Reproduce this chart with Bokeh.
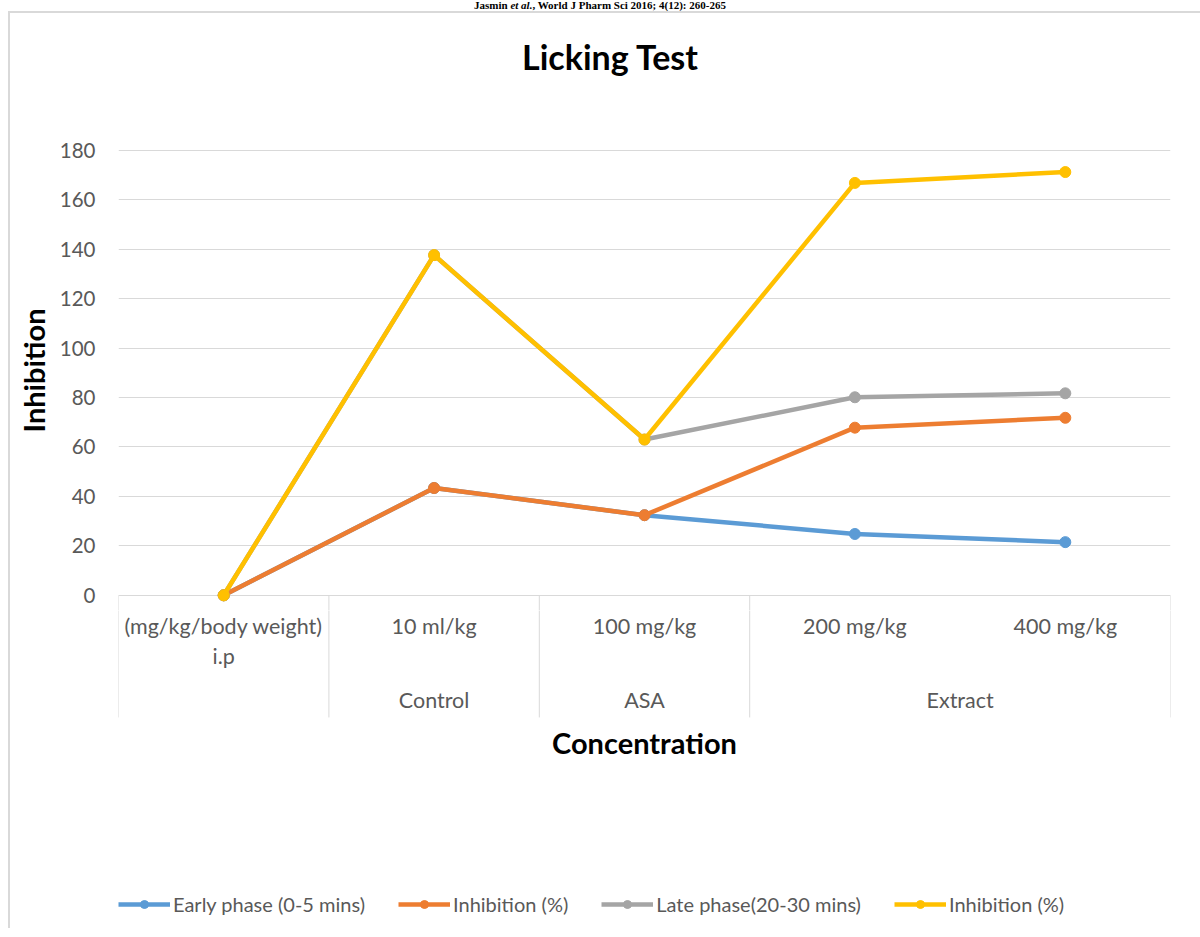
from bokeh.plotting import figure
from bokeh.models import (FixedTicker, Legend, LegendItem, ColumnDataSource, Range1d, Div)
from bokeh.layouts import column
from bokeh.core.properties import value
from bokeh.embed import file_html
from bokeh.resources import INLINE

# ---------------- data ----------------
doses = ["(mg/kg/body weight)\ni.p", "10 ml/kg", "100 mg/kg", "200 mg/kg", "400 mg/kg"]
groups = ["", "Control", "ASA", "Extract", "Extract"]
y_ticks = [0, 20, 40, 60, 80, 100, 120, 140, 160, 180]

series_names = ["Early phase (0-5 mins)", "Inhibition (%)", "Late phase(20-30 mins)", "Inhibition (%)"]
early_phase = [0, 43.4, 32.4, 24.8, 21.5]
inhibition_early = [0, 43.4, 32.4, 67.8, 71.8]
late_phase = [0, 137.6, 63.0, 80.1, 81.7]
inhibition_late = [0, 137.6, 63.0, 166.8, 171.2]
series_values = [early_phase, inhibition_early, late_phase, inhibition_late]
colors = ["#5B9BD5", "#ED7D31", "#A5A5A5", "#FFC000"]

FONT = "Lato"
TICK_COLOR = "#595959"
GRID_COLOR = "#d9d9d9"
LINE_W = 4.5
MARK_SIZE = 11

n = len(doses)
xs = [i + 0.5 for i in range(n)]

FW = 1052                       # frame width
K = 480 / (188 + 6.15)          # px per y unit, shared by both panels
Y_SPLIT = -6.15
LEFT = 108
RIGHT = 30
TITLE_H = 88

# ---------------- chart title ----------------
title_div = Div(text="Licking Test", width=LEFT + FW + RIGHT, height=TITLE_H, margin=0,
                styles={"font-family": FONT, "font-size": "34px", "font-weight": "bold",
                        "line-height": f"{TITLE_H}px", "text-align": "center",
                        "text-indent": "10px", "color": "black"})

# ---------------- top panel: data ----------------
p = figure(output_backend="svg", toolbar_location=None,
           frame_width=FW, frame_height=480,
           min_border_left=LEFT, min_border_right=RIGHT,
           min_border_top=117 - TITLE_H, min_border_bottom=0,
           x_range=Range1d(0, n), y_range=Range1d(Y_SPLIT, 188))
p.outline_line_color = None
p.xaxis.visible = False
p.xgrid.visible = False
p.ygrid.ticker = FixedTicker(ticks=y_ticks)
p.ygrid.grid_line_color = GRID_COLOR
p.yaxis.ticker = FixedTicker(ticks=y_ticks)
p.yaxis.axis_line_color = None
p.yaxis.major_tick_line_color = None
p.yaxis.minor_tick_line_color = None
p.yaxis.major_label_standoff = 17
p.yaxis.major_label_text_font = FONT
p.yaxis.major_label_text_font_size = "20.5px"
p.yaxis.major_label_text_color = TICK_COLOR
p.yaxis.axis_label = "Inhibition"
p.yaxis.axis_label_text_font = FONT
p.yaxis.axis_label_text_font_size = "29px"
p.yaxis.axis_label_text_font_style = "bold"
p.yaxis.axis_label_text_color = "black"
p.yaxis.axis_label_standoff = 6

# category separators: outer edges and where the group changes
bounds = [0]
for i in range(1, n):
    if groups[i] != groups[i - 1]:
        bounds.append(i)
bounds.append(n)
SEP_BOTTOM = -49.4

p.segment(x0=bounds, y0=[0] * len(bounds), x1=bounds, y1=[SEP_BOTTOM] * len(bounds),
          line_color=GRID_COLOR, line_width=1)

for vals, col in zip(series_values, colors):
    src = ColumnDataSource(dict(x=xs, y=vals))
    p.line("x", "y", source=src, line_color=col, line_width=LINE_W)
    p.scatter("x", "y", source=src, marker="circle", size=MARK_SIZE,
              fill_color=col, line_color=col)

# ---------------- bottom panel: category axis + legend ----------------
b_height = 318
q = figure(output_backend="svg", toolbar_location=None,
           frame_width=FW, frame_height=b_height,
           min_border_left=LEFT, min_border_right=RIGHT,
           min_border_top=0, min_border_bottom=0,
           x_range=p.x_range,
           y_range=Range1d(Y_SPLIT - b_height / K, Y_SPLIT))
q.outline_line_color = None
q.axis.visible = False
q.grid.visible = False

q.segment(x0=bounds, y0=[0] * len(bounds), x1=bounds, y1=[SEP_BOTTOM] * len(bounds),
          line_color=GRID_COLOR, line_width=1)

first_lines = [d.split("\n")[0] for d in doses]
second_lines = [d.split("\n")[1] if "\n" in d else "" for d in doses]
q.text(x=xs, y=[-12.6] * n, text=first_lines, text_align="center", text_baseline="middle",
       text_font=value(FONT), text_font_size="21.5px", text_color=TICK_COLOR)
q.text(x=xs, y=[-24.4] * n, text=second_lines, text_align="center", text_baseline="middle",
       text_font=value(FONT), text_font_size="21.5px", text_color=TICK_COLOR)

gx, gt = [], []
for a, b in zip(bounds[:-1], bounds[1:]):
    if groups[a]:
        gx.append((a + b) / 2)
        gt.append(groups[a])
q.text(x=gx, y=[-42.5] * len(gx), text=gt, text_align="center", text_baseline="middle",
       text_font=value(FONT), text_font_size="21.5px", text_color=TICK_COLOR)

q.text(x=[n / 2], y=[-59.5], text=["Concentration"], text_align="center",
       text_baseline="middle", text_font=value(FONT), text_font_size="29px",
       text_font_style="bold", text_color="black")

# legend samples (renderers styled like the series, with no visible points)
nan = float("nan")
items = []
for name, col in zip(series_names, colors):
    empty = ColumnDataSource(dict(x=[nan], y=[nan]))
    lr = q.line("x", "y", source=empty, line_color=col, line_width=LINE_W)
    sr = q.scatter("x", "y", source=empty, marker="circle", size=MARK_SIZE,
                   fill_color=col, line_color=col)
    items.append(LegendItem(label=name, renderers=[lr, sr]))

legend = Legend(items=items, orientation="horizontal", location=(0, 12),
                glyph_width=52, glyph_height=20, label_standoff=3, spacing=33,
                padding=0, margin=0, border_line_color=None,
                background_fill_alpha=0, label_text_font=FONT,
                label_text_font_size="20px", label_text_color=TICK_COLOR)
q.add_layout(legend, "center")

header = Div(text="<b>Jasmin <i>et al.</i>, World J Pharm Sci 2016; 4(12): 260-265</b>",
             width=1200, height=11, margin=0,
             styles={"font-family": "Liberation Serif", "font-size": "11px",
                     "line-height": "11px", "text-align": "center", "color": "black"})

body = column(title_div, p, q, spacing=0, margin=(0, 0, 0, 8),
              styles={"border-left": "2px solid #d9d9d9", "border-top": "2px solid #d9d9d9"})
layout = column(header, body, spacing=0)

open("out.html", "w").write(file_html(layout, INLINE))
